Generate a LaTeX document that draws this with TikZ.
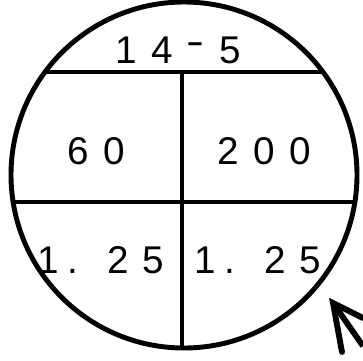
\documentclass[tikz,border=0pt]{standalone}
\usepackage{fontspec}
\setmainfont{Liberation Sans}
\usetikzlibrary{calc}
\newcommand{\gp}{\hspace{0.37em}}

\begin{document}
\begin{tikzpicture}[x=0.03cm, y=-0.03cm,
  rim/.style={line width=4.2pt},
  cell/.style={font=\fontsize{33}{33}\selectfont, inner sep=0pt},
]
  \useasboundingbox (0,0) rectangle (363,360);
  \coordinate (c) at (184,175);
  \draw[rim] (c) circle (173);

  % chords and middle bar
  \coordinate (tl) at (45,72);
  \coordinate (tr) at (325,72);
  \coordinate (ml) at (13,202);
  \coordinate (mr) at (355,202);
  \coordinate (vt) at (182,72);
  \coordinate (vb) at (182,348);
  \draw[rim] (tl) -- (tr);
  \draw[rim] (ml) -- (mr);
  \draw[rim] (vt) -- (vb);

  \node[cell] (top) at (178,50) {1\gp4\gp\raisebox{0.22em}{\scalebox{1.4}[1]{-}}\gp5};
  \node[cell] (ul) at (96,151) {6\gp0};
  \node[cell] (ur) at (264,151) {2\gp0\gp0};
  \node[cell] (ll) at (101,260) {1\hspace{.22em}.\hspace{.75em}2\gp5};
  \node[cell] (lr) at (258,260) {1\hspace{.22em}.\hspace{.75em}2\gp5};

  % pointer at the rim
  \coordinate (tip) at (333,303);
  \coordinate (b1) at (342,352);
  \coordinate (b2) at (363,318);
  \coordinate (tail) at (363,346);
  \draw[line width=5pt, line cap=round] (b1) -- (tip) -- (b2);
  \draw[line width=5pt] (tip) -- (tail);
\end{tikzpicture}
\end{document}
